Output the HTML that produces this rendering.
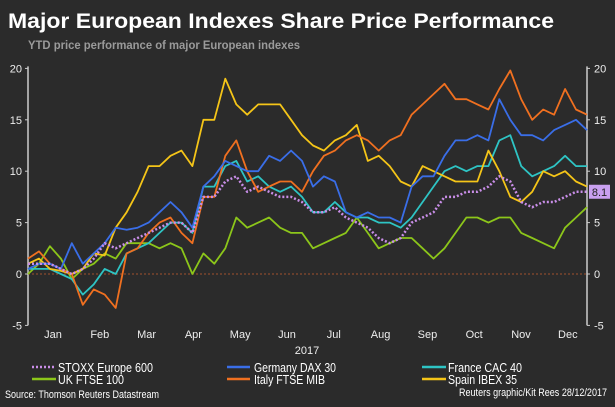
<!DOCTYPE html>
<html><head><meta charset="utf-8"><style>
body{margin:0;background:#2b2b2b;width:615px;height:402px;overflow:hidden;font-family:"Liberation Sans",sans-serif}
</style></head><body>
<svg width="615" height="402" xmlns="http://www.w3.org/2000/svg">
<rect width="615" height="402" fill="#2b2b2b"/>
<text x="8" y="28" fill="#fff" font-size="21" font-weight="bold" textLength="546" lengthAdjust="spacingAndGlyphs">Major European Indexes Share Price Performance</text>
<text x="28" y="49" fill="#9a9a9a" font-size="11.5" font-weight="bold" textLength="272" lengthAdjust="spacingAndGlyphs">YTD price performance of major European indexes</text>
<g id="axes"></g>
<g id="series"></g>
<text x="307" y="354" fill="#eee" font-size="11" text-anchor="middle">2017</text>
<g font-size="13" fill="#fff">
<line x1="32" y1="367" x2="56" y2="367" stroke="#c98ee8" stroke-width="2.5" stroke-dasharray="2,2"/>
<text x="58" y="372" textLength="95" lengthAdjust="spacingAndGlyphs">STOXX Europe 600</text>
<line x1="227" y1="367" x2="250" y2="367" stroke="#3a6ee8" stroke-width="2.5"/>
<text x="254" y="372" textLength="82" lengthAdjust="spacingAndGlyphs">Germany DAX 30</text>
<line x1="422" y1="367" x2="446" y2="367" stroke="#2ec4c4" stroke-width="2.5"/>
<text x="448" y="372" textLength="74" lengthAdjust="spacingAndGlyphs">France CAC 40</text>
<line x1="32" y1="379" x2="56" y2="379" stroke="#8cc61a" stroke-width="2.5"/>
<text x="58" y="384" textLength="66" lengthAdjust="spacingAndGlyphs">UK FTSE 100</text>
<line x1="227" y1="379" x2="250" y2="379" stroke="#f07020" stroke-width="2.5"/>
<text x="254" y="384" textLength="71" lengthAdjust="spacingAndGlyphs">Italy FTSE MIB</text>
<line x1="422" y1="379" x2="446" y2="379" stroke="#f5c518" stroke-width="2.5"/>
<text x="448" y="384" textLength="69" lengthAdjust="spacingAndGlyphs">Spain IBEX 35</text>
</g>
<text x="5" y="398" fill="#fff" font-size="11" textLength="154" lengthAdjust="spacingAndGlyphs">Source: Thomson Reuters Datastream</text>
<text x="459" y="396" fill="#fff" font-size="11" textLength="148" lengthAdjust="spacingAndGlyphs">Reuters graphic/Kit Rees 28/12/2017</text>
</svg>
<script>
const months=["Jan","Feb","Mar","Apr","May","Jun","Jul","Aug","Sep","Oct","Nov","Dec"];
const yTicks=[-5,0,5,10,15,20];
const lastLabel="8.1";
const stoxx=[1,1,1,0.5,0,0.5,1.5,3,2.5,3,3.5,4,4.5,5,5,4,7.5,7.5,9,9.5,8,8.5,8,7.5,7.5,7,6,6,6.5,5.5,5,4.5,3.5,3,3.5,5,5.5,6,7.5,7.5,8,8,8.5,9.5,9,7,6.5,7,7,7.5,8,8];
const dax=[0.5,1,1,0.5,3,1,2,3,4.5,4.3,4.5,5,6,7,6,4.5,8.5,9.5,11,10.5,10,10,11.5,11,12,11,8.5,9.5,9,6,5.5,6,5.5,5.5,5,8.5,9.5,9.5,11.5,13,13,13.5,13,17,15,13.5,13.5,13,14,14.5,15,14];
const cac=[0.5,0.5,0.5,0,-0.5,-2,-1,0.5,0,2,2.5,3,4,5,5,4,8.5,8.5,10.5,11,9,9.5,8.5,8,8.5,7.5,6,6,7,6,5.5,5.5,5,5,4.5,5.5,7,8.5,10,10.5,10,10.5,10.5,13,13.5,10.5,9.5,10,10.5,11.5,10.5,10.5];
const ftse=[0,1,2.7,1.5,-0.5,0.5,1,2,1.5,3,3,3,2.5,3,2.5,0,2,1,2.5,5.5,4.5,5,5.5,4.5,4,4,2.5,3,3.5,4,5.5,4,2.5,3,3.5,3.5,2.5,1.5,2.5,4,5.5,5.5,5,5.5,5.5,4,3.5,3,2.5,4.5,5.5,6.5];
const mib=[1.5,2.2,1,0.5,0,-3,-1.5,-2,-3.3,2,2.5,4,5,5.5,4,3,7.5,7.5,11.5,13,10,8,8.5,9,9,8,10,11.5,12,13,13.5,13,12,13,13.5,15.5,16.5,17.5,18.5,17,17,16.5,16,18,19.8,17,15,16,15.5,18,16,15.5];
const ibex=[1,1.5,0.5,0.3,0,0.5,2,1.8,4.5,6,8,10.5,10.5,11.5,12,10.5,15,15,19,16.5,15.5,16.5,16.5,16.5,15,13.5,12.5,12,13,13.5,14.5,11,11.5,10.5,9,8.5,10.5,10,9.5,9,9,9,12,10,7.5,7,8,10,9.5,10,9,8.5];
const NS="http://www.w3.org/2000/svg";
const X0=28,X1=587,Y0=274,PX=10.28;
const y=v=>Y0-v*PX;
const x=(i,n)=>X0+i*(X1-X0)/(n-1);
const mx=i=>53+i*46.8;
function mk(t,a,p){const e=document.createElementNS(NS,t);for(const k in a)e.setAttribute(k,a[k]);p.appendChild(e);return e;}
const axes=document.getElementById('axes');
let e=mk('line',{x1:X0,y1:y(20)-2,x2:X0,y2:y(-5),stroke:'#ccc','stroke-width':1.5},axes);


e=mk('line',{x1:X1,y1:y(20)-2,x2:X1,y2:y(-5),stroke:'#ccc','stroke-width':1.5},axes);


e=mk('line',{x1:X0,y1:y(0),x2:X1,y2:y(0),stroke:'#a0522d','stroke-width':1,'stroke-dasharray':'2,2'},axes);


yTicks.forEach(v=>{
 mk('line',{x1:X0-3,y1:y(v),x2:X0,y2:y(v),stroke:'#ccc'},axes);
 mk('line',{x1:X1,y1:y(v),x2:X1+3,y2:y(v),stroke:'#ccc'},axes);
 let t=mk('text',{x:X0-6,y:y(v)+4,fill:'#eee','font-size':11,'text-anchor':'end'},axes);t.textContent=v;
 
 
 t=mk('text',{x:X1+7,y:y(v)+4,fill:'#eee','font-size':11},axes);t.textContent=v;
 
 
});
months.forEach((m,i)=>{let t=mk('text',{x:mx(i),y:338,fill:'#eee','font-size':11,'text-anchor':'middle'},axes);t.textContent=m;
 
 });
const g=document.getElementById('series');
function draw(arr,col,name,dash){
 const d=arr.map((v,i)=>(i?'L':'M')+x(i,arr.length).toFixed(1)+','+y(v).toFixed(1)).join('');
 const p=mk('path',{d:d,fill:'none',stroke:col,'stroke-width':dash?2.5:1.8,'stroke-linejoin':'round'},g);
 if(dash)p.setAttribute('stroke-dasharray','2,2');
 
 
}
draw(ftse,'#8cc61a','line-uk-ftse-100');
draw(cac,'#2ec4c4','line-france-cac-40');
draw(ibex,'#f5c518','line-spain-ibex-35');
draw(mib,'#f07020','line-italy-ftse-mib');
draw(dax,'#3a6ee8','line-germany-dax-30');
draw(stoxx,'#c98ee8','line-stoxx-europe-600',true);
const ly=y(stoxx[stoxx.length-1]);
const r=mk('rect',{x:X1+2,y:ly-7,width:21,height:14,fill:'#c9a0f0'},g);


const lt=mk('text',{x:X1+12.5,y:ly+4,fill:'#222','font-size':11,'text-anchor':'middle'},g);lt.textContent=lastLabel;


</script>
</body></html>
